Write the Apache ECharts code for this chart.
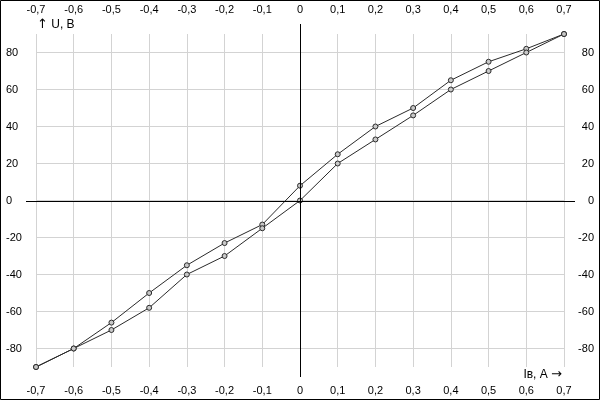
<!DOCTYPE html>
<html>
<head>
<meta charset="utf-8">
<script src="https://cdn.jsdelivr.net/npm/echarts@6/dist/echarts.min.js"></script>
<style>
html,body{margin:0;padding:0;background:#fff;}
#c{width:600px;height:400px;}
</style>
</head>
<body>
<div id="c"></div>
<script>
const currentA = [-0.7, -0.6, -0.5, -0.4, -0.3, -0.2, -0.1, 0, 0.1, 0.2, 0.3, 0.4, 0.5, 0.6, 0.7];
const voltageUpper = [-90, -80, -66, -50, -35, -23, -13, 8, 25, 40, 50, 65, 75, 82, 90];
const voltageLower = [-90, -80, -70, -58, -40, -30, -15, 0, 20, 33, 46, 60, 70, 80, 90];
const yAxisName = 'U, B';
const xAxisName = 'Iв, A';

const font = 'Liberation Sans';
const fmtX = v => (Math.round(v * 10) / 10).toFixed(1).replace('.', ',').replace(/^-0,0$/, '0').replace(/^0,0$/, '0');
const labelStyle = {color: '#000', fontFamily: font, fontSize: 11};

function xAx(pos, margin) {
  return {
    type: 'value', position: pos, min: -0.7, max: 0.7, interval: 0.1,
    axisLine: {show: false}, axisTick: {show: false},
    splitLine: {show: pos === 'bottom', lineStyle: {color: '#d3d3d3', width: 1}},
    axisLabel: Object.assign({margin: margin, formatter: fmtX}, labelStyle)
  };
}
function yAx(pos, align) {
  return {
    type: 'value', position: pos, min: -90, max: 90, splitNumber: 9,
    axisLine: {show: false}, axisTick: {show: false},
    splitLine: {show: pos === 'left', showMinLine: false, showMaxLine: false, lineStyle: {color: '#d3d3d3', width: 1}},
    axisLabel: Object.assign({margin: 30, align: align, showMinLabel: false, showMaxLabel: false}, labelStyle)
  };
}
const pairs = arr => currentA.map((x, i) => [x, arr[i]]);
const seriesStyle = {
  type: 'line', symbol: 'circle', symbolSize: 5, animation: false,
  lineStyle: {color: '#2a2a2a', width: 1},
  itemStyle: {color: '#c8c8c8', borderColor: '#2a2a2a', borderWidth: 1}
};

const chart = echarts.init(document.getElementById('c'), null, {renderer: 'canvas'});
chart.setOption({
  animation: false,
  grid: {left: 36, right: 36, top: 34, bottom: 33, containLabel: false},
  xAxis: [xAx('bottom', 18), xAx('top', 19)],
  yAxis: [yAx('left', 'left'), yAx('right', 'right')],
  series: [
    Object.assign({data: pairs(voltageUpper), xAxisIndex: 0, yAxisIndex: 0}, seriesStyle),
    Object.assign({data: pairs(voltageLower), xAxisIndex: 0, yAxisIndex: 0}, seriesStyle)
  ]
});

const o = chart.convertToPixel({xAxisIndex: 0, yAxisIndex: 0}, [0, 0]);
const tl = chart.convertToPixel({xAxisIndex: 0, yAxisIndex: 0}, [-0.7, 90]);
const br = chart.convertToPixel({xAxisIndex: 0, yAxisIndex: 0}, [0.7, -90]);
const rich = {
  a: {fontFamily: 'DejaVu Sans', fontSize: 13, fill: '#000'},
  t: {fontFamily: font, fontSize: 12, fill: '#000'}
};
chart.setOption({
  graphic: [
    {type: 'line', z: 50, shape: {x1: Math.round(o[0]) + 0.5, y1: tl[1] - 10, x2: Math.round(o[0]) + 0.5, y2: br[1] + 10}, style: {stroke: '#000', lineWidth: 1}},
    {type: 'line', z: 50, shape: {x1: tl[0] - 10, y1: Math.round(o[1]) + 0.5, x2: br[0] + 11, y2: Math.round(o[1]) + 0.5}, style: {stroke: '#000', lineWidth: 1}},
    {type: 'text', z: 60, style: {x: tl[0] + 1, y: tl[1] - 9, text: '{a|↑} {t|' + yAxisName + '}', rich: rich, verticalAlign: 'middle', align: 'left'}},
    {type: 'text', z: 60, style: {x: br[0] - 2, y: br[1] + 8, text: '{t|' + xAxisName + '} {a|→}', rich: rich, align: 'right', verticalAlign: 'middle'}},
    {type: 'rect', z: 100, shape: {x: 0.5, y: 0.5, width: 599, height: 399}, style: {fill: 'none', stroke: '#000', lineWidth: 1}}
  ]
});
</script>
</body>
</html>
